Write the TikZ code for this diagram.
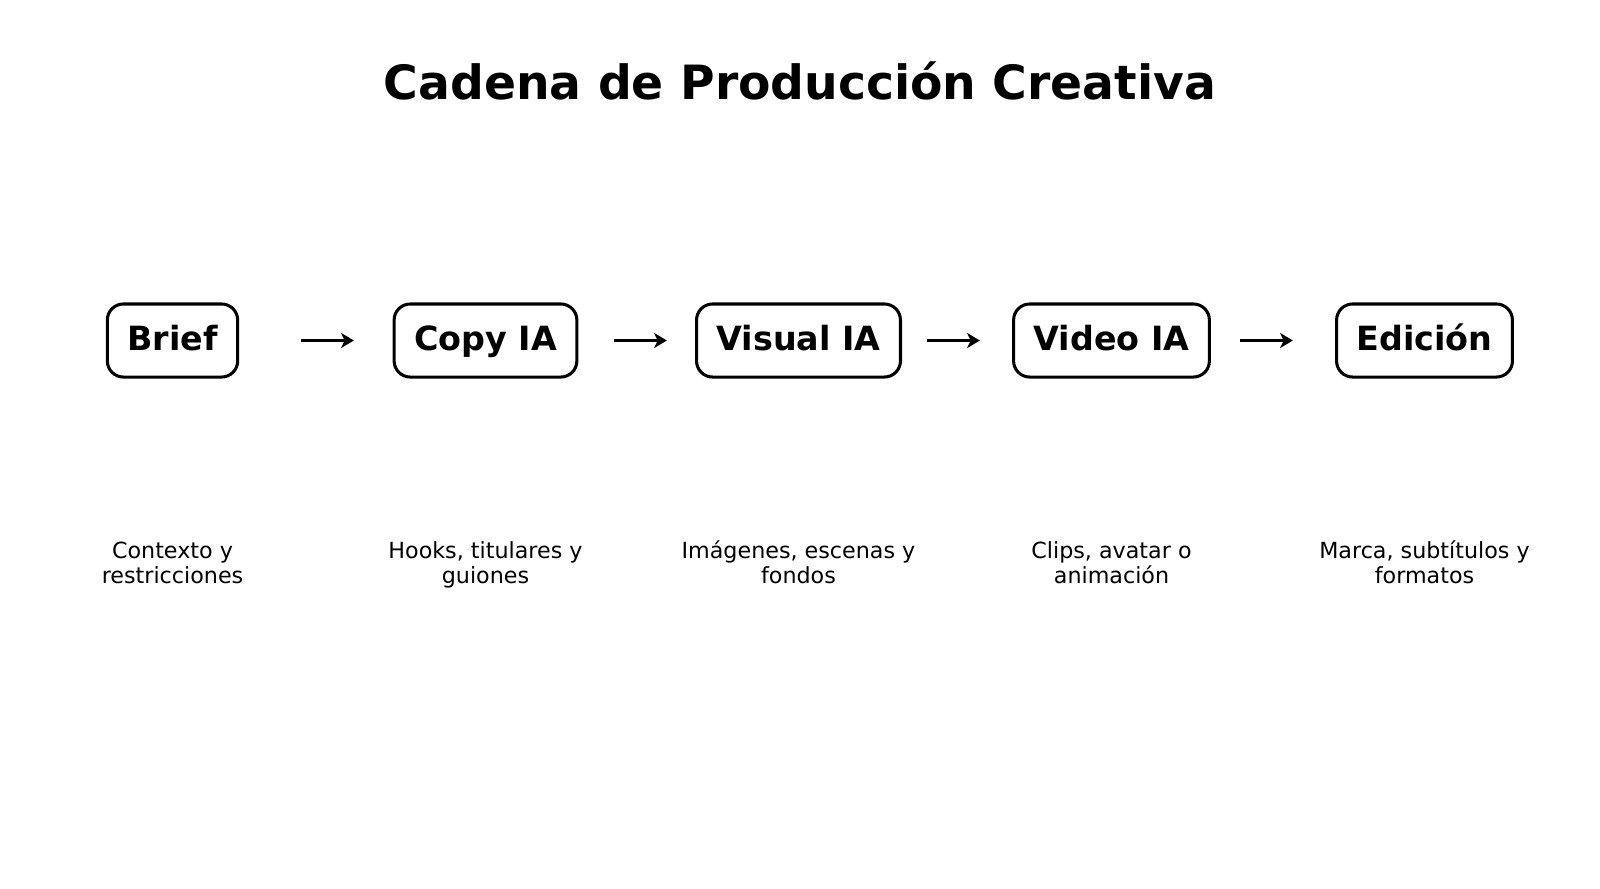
\documentclass[tikz,border=0pt]{standalone}
\usepackage{fontspec}
\setmainfont{DejaVu Sans}
\usetikzlibrary{positioning,arrows.meta}
\begin{document}
\begin{tikzpicture}[x=0.36pt, y=-0.36pt, node distance={112.68pt}, thick,
    main/.style = {draw, line width=1.1pt, rounded corners=5.8pt, minimum height=26.3pt, inner xsep=7.2pt, text height=8.8pt, text depth=1.8pt, font=\fontsize{12}{14}\selectfont\bfseries},
    desc/.style = {align=center, anchor=base, font=\fontsize{8}{9}\selectfont},
    flow/.style = {-{Stealth[length=4.6pt, width=5.4pt, inset=1.3pt]}, line width=1.4pt}]
    \useasboundingbox (0,0) rectangle (1600,888);
    \node[anchor=base, font=\fontsize{17}{20}\selectfont\bfseries] (title) at (800,99) {Cadena de Producción Creativa};

    \node[main] (1) at (172.5,340.5)   {Brief};
    \node[main] (2) [right of=1]       {Copy IA};
    \node[main] (3) [right of=2]       {Visual IA};
    \node[main] (4) [right of=3]       {Video IA};
    \node[main] (5) [right of=4]       {Edición};

    % base anchor sits on the second line
    \node[desc] (d1) at (172.5,583)    {Contexto y\\restricciones};
    \node[desc] (d2) at (485.5,583)    {Hooks, titulares y\\guiones};
    \node[desc] (d3) at (798.5,583)    {Imágenes, escenas y\\fondos};
    \node[desc] (d4) at (1111.5,583)   {Clips, avatar o\\animación};
    \node[desc] (d5) at (1424.5,583)   {Marca, subtítulos y\\formatos};

    \foreach \i/\j in {1/2, 2/3, 3/4, 4/5} {
        \coordinate (s\i) at ([xshift=46.4pt]\i.center);
        \coordinate (e\i) at ([xshift=65.3pt]\i.center);
        \draw[flow] (s\i) -- (e\i);
    }
\end{tikzpicture}
\end{document}
